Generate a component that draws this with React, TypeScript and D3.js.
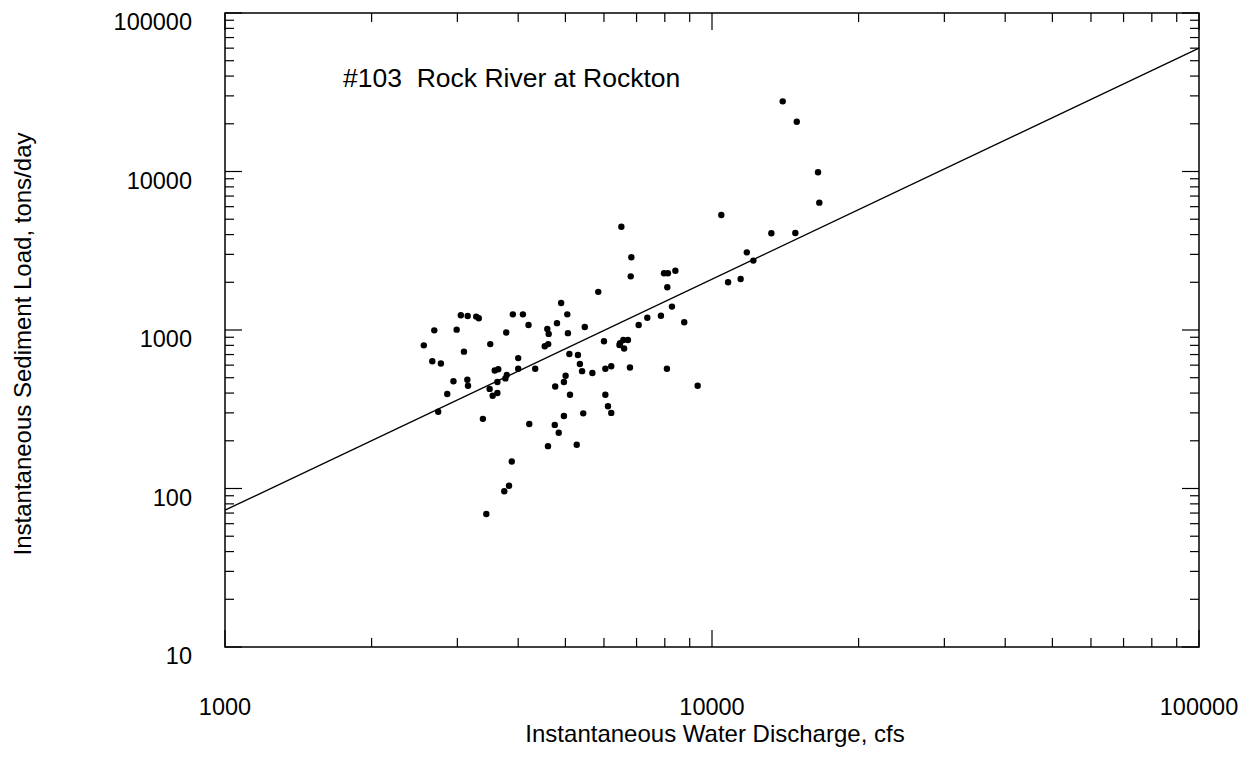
import React from "react";
import * as d3 from "d3";

// Instantaneous water discharge (cfs) and sediment load (tons/day)
const discharge: number[] = [
  5840, 4900, 3050, 3150, 3280, 3320, 3900, 4090, 5045, 2690,
  2990, 4200, 4805, 4590, 4620, 5060, 5480, 3780, 2560, 3505,
  3095, 4535, 4610, 6000, 6475, 6575, 6720, 6600, 6457, 7070,
  2665, 2775, 4000, 5095, 5305, 5355, 3580, 3640, 4000, 4335,
  5410, 5680, 6040, 6210, 6785, 2945, 3145, 3155, 3790, 3765,
  3625, 5005, 4965, 3495, 4765, 2860, 3545, 3625, 5110, 6040,
  6115, 6210, 2740, 5440, 4965, 3385, 4215, 4755, 4845, 4605,
  5275, 3880, 3830, 3745, 3440, 6515, 6830, 6810, 7970, 8120,
  8410, 8095, 10450, 13240, 14830, 16610, 11790, 12160, 10790, 11450,
  8275, 7855, 7365, 8770, 8080, 9345, 13970, 14930, 16510,
];
const sediment: number[] = [
  1740, 1480, 1240, 1225, 1215, 1185, 1255, 1255, 1255, 995,
  1005, 1075, 1105, 1015, 945, 955, 1045, 965, 800, 815,
  730, 790, 815, 850, 825, 865, 865, 765, 804, 1075,
  635, 615, 665, 705, 695, 610, 555, 565, 570, 570,
  550, 535, 570, 590, 580, 475, 485, 445, 520, 495,
  470, 515, 470, 425, 440, 395, 385, 400, 390, 390,
  330, 300, 305, 298, 287, 275, 255, 252, 225, 185,
  189, 148, 104, 96, 69, 4480, 2875, 2180, 2280, 2280,
  2365, 1860, 5320, 4075, 4090, 6360, 3090, 2740, 2000, 2100,
  1405, 1230, 1195, 1120, 570, 445, 27700, 20600, 9900,
];

// Regression line end points
const fitDischarge: number[] = [1000, 100000];
const fitSediment: number[] = [73, 60000];

const xDomain: [number, number] = [1000, 100000];
const yDomain: [number, number] = [10, 100000];
const xTickLabels: number[] = [1000, 10000, 100000];
const yTickLabels: number[] = [10, 100, 1000, 10000, 100000];

const title = "#103  Rock River at Rockton";
const xTitle = "Instantaneous Water Discharge, cfs";
const yTitle = "Instantaneous Sediment Load, tons/day";

const W = 1255;
const H = 764;
const left = 225;
const right = 1199;
const top = 13;
const bottom = 647;

const FONT = "'Liberation Sans', Arial, Helvetica, sans-serif";

function logTicks(domain: [number, number]): { v: number; major: boolean }[] {
  const out: { v: number; major: boolean }[] = [];
  for (let e = Math.round(Math.log10(domain[0])); e < Math.round(Math.log10(domain[1])); e++) {
    const base = Math.pow(10, e);
    for (let k = 1; k <= 9; k++) out.push({ v: k * base, major: k === 1 });
  }
  out.push({ v: domain[1], major: true });
  return out;
}

export default function App() {
  const x = d3.scaleLog().domain(xDomain).range([left, right]);
  const y = d3.scaleLog().domain(yDomain).range([bottom, top]);
  const xt = logTicks(xDomain);
  const yt = logTicks(yDomain);
  const line = d3
    .line<number>()
    .x((_, i) => x(fitDischarge[i]))
    .y((d) => y(d));
  const MAJ = 17;
  const MIN = 9;
  return (
    <svg
      width={W}
      height={H}
      style={{ position: "absolute", left: 0, top: 0, background: "#fff" }}
      fontFamily={FONT}
    >
      <rect x={0} y={0} width={W} height={H} fill="#fff" />
      {/* ticks */}
      <g stroke="#000" strokeWidth={1.2}>
        {xt.map((t, i) => {
          const px = x(t.v);
          const len = t.major ? MAJ : MIN;
          return (
            <g key={"xt" + i}>
              <line x1={px} x2={px} y1={bottom} y2={bottom - len} />
              <line x1={px} x2={px} y1={top} y2={top + len} />
            </g>
          );
        })}
        {yt.map((t, i) => {
          const py = y(t.v);
          const len = t.major ? MAJ : MIN;
          return (
            <g key={"yt" + i}>
              <line x1={left} x2={left + len} y1={py} y2={py} />
              <line x1={right} x2={right - len} y1={py} y2={py} />
            </g>
          );
        })}
      </g>
      <rect
        x={left}
        y={top}
        width={right - left}
        height={bottom - top}
        fill="none"
        stroke="#000"
        strokeWidth={1.5}
      />
      {/* regression line */}
      <path d={line(fitSediment) || ""} fill="none" stroke="#000" strokeWidth={1.3} />
      {/* points */}
      <g fill="#000">
        {discharge.map((q, i) => (
          <circle key={"p" + i} cx={x(q)} cy={y(sediment[i])} r={3.2} />
        ))}
      </g>
      {/* tick labels */}
      <g fontSize={23.5} fill="#000">
        {xTickLabels.map((v) => (
          <text key={"xl" + v} x={x(v)} y={715} textAnchor="middle">
            {String(v)}
          </text>
        ))}
        {yTickLabels.map((v) => (
          <text key={"yl" + v} x={192} y={y(v) + 9} textAnchor="end" dominantBaseline="central">
            {String(v)}
          </text>
        ))}
      </g>
      <text x={715} y={742} fontSize={24} textAnchor="middle" fill="#000">
        {xTitle}
      </text>
      <text
        transform={`translate(31,344) rotate(-90)`}
        fontSize={24}
        textAnchor="middle"
        fill="#000"
      >
        {yTitle}
      </text>
      <text x={343} y={87} fontSize={26.5} fill="#000" style={{ whiteSpace: "pre" }}>
        {title}
      </text>
    </svg>
  );
}
